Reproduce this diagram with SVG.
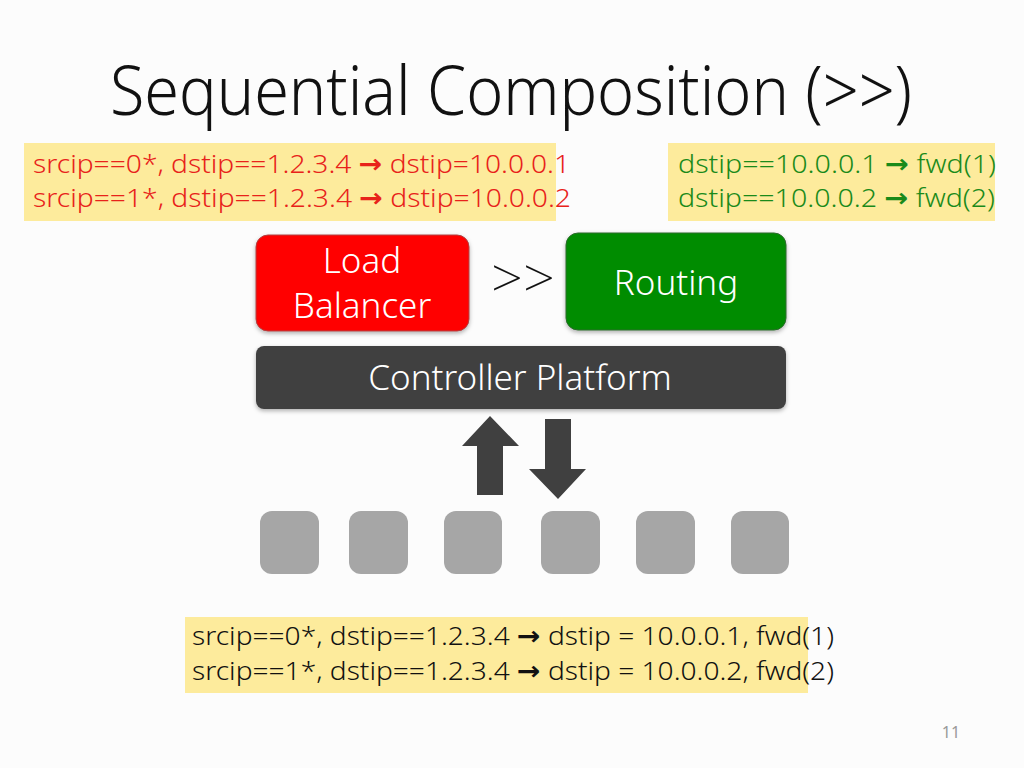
<svg xmlns="http://www.w3.org/2000/svg" width="1024" height="768" viewBox="0 0 1024 768">
<defs>
<style>
.t{font-family:"Noto Sans","Open Sans","DejaVu Sans",sans-serif}
.code{font-size:26px;font-weight:300}
.red{fill:#e8221a}
.grn{fill:#1a8a1a}
.blk{fill:#111}
.hl{fill:#fdeb9c}
.box{font-size:35px;font-weight:300;fill:#fff;text-anchor:middle}
.sw{fill:#a6a6a6}
.arr{fill:#404040}
.ar{font-weight:700}
</style>
<filter id="sh" x="-10%" y="-10%" width="120%" height="130%">
<feDropShadow dx="0" dy="2" stdDeviation="2" flood-color="#000" flood-opacity="0.3"/>
</filter>
</defs>
<rect width="1024" height="768" fill="#fcfcfc"/>
<text class="t" x="110" y="115" font-size="68" font-weight="300" fill="#111" textLength="802" lengthAdjust="spacingAndGlyphs">Sequential Composition (&gt;&gt;)</text>

<g id="lb-rules">
<rect class="hl" x="24" y="143" width="532" height="78"/>
<text class="t code red" x="33" y="173" textLength="537" lengthAdjust="spacingAndGlyphs">srcip==0*, dstip==1.2.3.4 <tspan class="ar">→</tspan> dstip=10.0.0.1</text>
<text class="t code red" x="33" y="207" textLength="538" lengthAdjust="spacingAndGlyphs">srcip==1*, dstip==1.2.3.4 <tspan class="ar">→</tspan> dstip=10.0.0.2</text>
</g>
<g id="rt-rules">
<rect class="hl" x="668" y="143" width="327" height="78"/>
<text class="t code grn" x="678" y="173" textLength="318" lengthAdjust="spacingAndGlyphs">dstip==10.0.0.1 <tspan class="ar">→</tspan> fwd(1)</text>
<text class="t code grn" x="678" y="207" textLength="317" lengthAdjust="spacingAndGlyphs">dstip==10.0.0.2 <tspan class="ar">→</tspan> fwd(2)</text>
</g>

<g id="load-balancer">
<rect x="256" y="235" width="213" height="96" rx="12" fill="#ff0000" stroke="#b04040" stroke-width="1" filter="url(#sh)"/>
<text class="t box" x="362" y="273">Load</text>
<text class="t box" x="362" y="318">Balancer</text>
</g>
<g id="seq-op">
<text class="t" x="523" y="298" font-size="56" font-weight="200" fill="#111" text-anchor="middle">&gt;&gt;</text>
</g>
<g id="routing">
<rect x="566" y="233" width="220" height="97" rx="12" fill="#008c00" stroke="#2c6a2c" stroke-width="1" filter="url(#sh)"/>
<text class="t box" x="676" y="295">Routing</text>
</g>
<g id="controller">
<rect x="256" y="346" width="530" height="63" rx="8" fill="#404040" filter="url(#sh)"/>
<text class="t box" x="520" y="390">Controller Platform</text>
</g>

<g id="connectors">
<polygon class="arr" points="490,416 519,446 503,446 503,495 477,495 477,446 462,446"/>
<polygon class="arr" points="545,419 571,419 571,469 586,469 558,499 529,469 545,469"/>
</g>

<g id="switches">
<rect id="s1" class="sw" x="260" y="511" width="59" height="63" rx="12"/>
<rect id="s2" class="sw" x="349" y="511" width="59" height="63" rx="12"/>
<rect id="s3" class="sw" x="444" y="511" width="58" height="63" rx="12"/>
<rect id="s4" class="sw" x="541" y="511" width="59" height="63" rx="12"/>
<rect id="s5" class="sw" x="636" y="511" width="59" height="63" rx="12"/>
<rect id="s6" class="sw" x="731" y="511" width="58" height="63" rx="12"/>
</g>

<g id="composed-rules">
<rect class="hl" x="185" y="617" width="623" height="76"/>
<text class="t code blk" x="192" y="645" textLength="642" lengthAdjust="spacingAndGlyphs">srcip==0*, dstip==1.2.3.4 <tspan class="ar">→</tspan> dstip = 10.0.0.1, fwd(1)</text>
<text class="t code blk" x="192" y="680" textLength="642" lengthAdjust="spacingAndGlyphs">srcip==1*, dstip==1.2.3.4 <tspan class="ar">→</tspan> dstip = 10.0.0.2, fwd(2)</text>
</g>
<text class="t" x="951" y="738" font-size="16" fill="#999" text-anchor="middle">11</text>
</svg>
